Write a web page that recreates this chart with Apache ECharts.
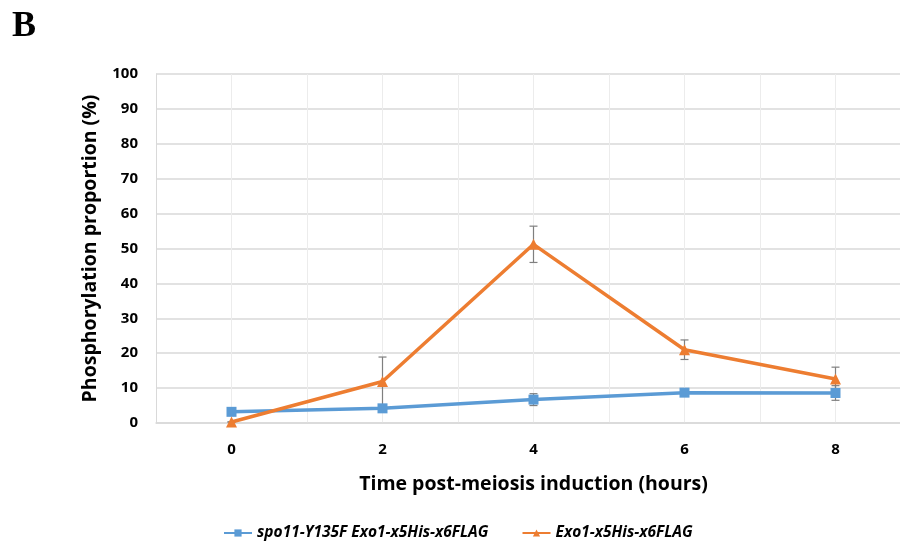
<!DOCTYPE html>
<html>
<head>
<meta charset="utf-8">
<script src="https://cdn.jsdelivr.net/npm/echarts@6/dist/echarts.min.js"></script>
<style>
html,body{margin:0;padding:0;background:#fff;}
#chart{width:900px;height:542px;}
</style>
</head>
<body>
<div id="chart"></div>
<script>
const hours = [0, 2, 4, 6, 8];
const spo11Name = 'spo11-Y135F Exo1-x5His-x6FLAG';
const exo1Name = 'Exo1-x5His-x6FLAG';
const spo11 = [3.2, 4.2, 6.7, 8.7, 8.6];
const spo11Err = [0.4, 0.5, 1.7, 0.6, 2.1];
const exo1 = [0.3, 11.9, 51.2, 21.0, 12.6];
const exo1Err = [0.0, 7.0, 5.2, 2.8, 3.4];
const yTicks = [0, 10, 20, 30, 40, 50, 60, 70, 80, 90, 100];

const pts = (vals) => hours.map((h, i) => [h, vals[i]]);
const errs = (vals, e) => hours.map((h, i) => [h, vals[i] - e[i], vals[i] + e[i]]);

function errRender(params, api) {
  const x = api.value(0);
  const lo = api.coord([x, api.value(1)]);
  const hi = api.coord([x, api.value(2)]);
  const w = 4;
  const st = { stroke: '#7f7f7f', lineWidth: 1.2 };
  return {
    type: 'group',
    children: [
      { type: 'line', shape: { x1: lo[0], y1: lo[1], x2: hi[0], y2: hi[1] }, style: st },
      { type: 'line', shape: { x1: hi[0] - w, y1: hi[1], x2: hi[0] + w, y2: hi[1] }, style: st },
      { type: 'line', shape: { x1: lo[0] - w, y1: lo[1], x2: lo[0] + w, y2: lo[1] }, style: st }
    ]
  };
}

const chart = echarts.init(document.getElementById('chart'));
const font = '"Open Sans", sans-serif';
chart.setOption({
  animation: false,
  backgroundColor: '#fff',
  graphic: [{
    type: 'text', left: 12, top: 9,
    style: { text: 'B', font: 'bold 36px "Liberation Serif", serif', fill: '#000' }
  }],
  legend: {
    left: 218, top: 520,
    itemWidth: 28, itemHeight: 9, itemGap: 33,
    textStyle: { fontFamily: font, fontWeight: 'bold', fontStyle: 'italic', fontSize: 15.5, color: '#000' },
    data: [spo11Name, exo1Name]
  },
  grid: { left: 156, top: 74, width: 755, height: 349, containLabel: false, outerBoundsMode: 'none' },
  xAxis: {
    type: 'value', min: -1, max: 9, interval: 1,
    axisLine: { show: true, onZero: false, lineStyle: { color: '#d9d9d9', width: 1.5 } },
    axisTick: { show: false },
    splitLine: { show: true, lineStyle: { color: '#ececec', width: 1 } },
    axisLabel: {
      margin: 19, fontFamily: font, fontWeight: 'bold', fontSize: 15, color: '#000',
      formatter: (v) => (hours.indexOf(v) >= 0 ? String(v) : '')
    },
    name: 'Time post-meiosis induction (hours)',
    nameLocation: 'middle', nameGap: 51,
    nameTextStyle: { fontFamily: font, fontWeight: 'bold', fontSize: 19.5, color: '#000' }
  },
  yAxis: {
    type: 'value', min: yTicks[0], max: yTicks[yTicks.length - 1], interval: 10,
    axisLine: { show: true, onZero: false, lineStyle: { color: '#d9d9d9', width: 1 } },
    axisTick: { show: false },
    splitLine: { show: true, lineStyle: { color: '#d9d9d9', width: 1.5 } },
    axisLabel: { margin: 18, fontFamily: font, fontWeight: 'bold', fontSize: 15, color: '#000' },
    name: 'Phosphorylation proportion (%)',
    nameLocation: 'middle', nameGap: 56,
    nameTextStyle: { fontFamily: font, fontWeight: 'bold', fontSize: 19.5, color: '#000' }
  },
  series: [
    {
      type: 'custom', name: 'errSpo', renderItem: errRender, data: errs(spo11, spo11Err),
      encode: { x: 0, y: [1, 2] }, z: 1, silent: true
    },
    {
      type: 'custom', name: 'errExo', renderItem: errRender, data: errs(exo1, exo1Err),
      encode: { x: 0, y: [1, 2] }, z: 1, silent: true
    },
    {
      name: spo11Name, type: 'line', data: pts(spo11), z: 3,
      symbol: 'rect', symbolSize: 10,
      lineStyle: { color: '#5B9BD5', width: 3.5 },
      itemStyle: { color: '#5B9BD5' }
    },
    {
      name: exo1Name, type: 'line', data: pts(exo1), z: 4,
      symbol: 'triangle', symbolSize: 11,
      lineStyle: { color: '#ED7D31', width: 3.5 },
      itemStyle: { color: '#ED7D31' }
    }
  ]
});
</script>
</body>
</html>
